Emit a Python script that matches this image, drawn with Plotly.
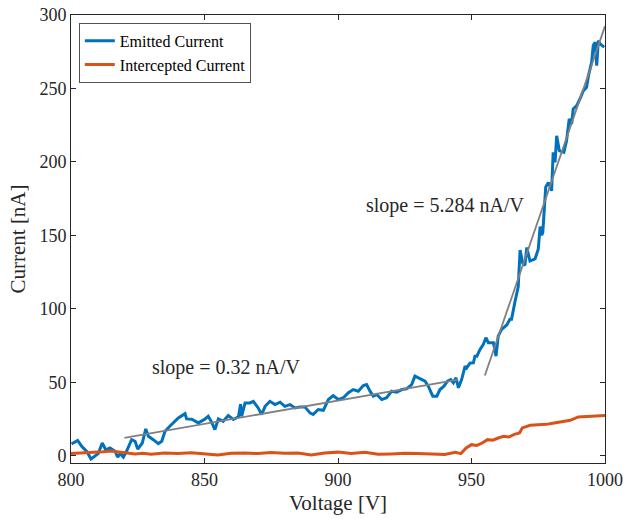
import plotly.graph_objects as go

# Emitted current (blue)
emitted_v = [800.2, 802.5, 804.0, 805.9, 807.5, 809.0, 810.2, 811.7, 813.0, 814.6, 816.5, 817.5, 818.4, 819.6,
             820.8, 822.7, 824.0, 825.0, 826.7, 828.0, 829.0, 830.8, 832.7, 834.0, 835.2, 837.0, 838.3, 840.2,
             842.7, 843.3, 845.2, 847.7, 850.2, 851.4, 852.7, 853.9, 855.2, 857.0, 858.9, 860.8, 862.7, 863.5,
             863.9, 865.2, 867.0, 868.3, 870.1, 871.4, 872.7, 874.5, 876.4, 878.3, 880.1, 882.0, 883.9, 885.8,
             887.6, 889.5, 890.7, 892.6, 894.5, 896.4, 898.2, 900.1, 902.0, 903.9, 905.7, 907.6, 909.5, 910.7,
             912.0, 913.2, 914.5, 916.4, 918.2, 920.1, 922.0, 923.9, 925.7, 927.6, 928.8, 930.7, 932.6, 933.8,
             935.5, 937.0, 938.2, 939.7, 941.0, 942.2, 943.2, 944.2, 945.1, 946.3, 947.6, 948.2, 949.4, 950.7,
             951.3, 952.0, 953.2, 954.4, 955.4, 956.3, 958.2, 959.2, 960.0, 961.3, 963.2, 964.4, 965.0, 966.3,
             967.5, 968.2, 969.2, 970.0, 970.7, 971.9, 973.8, 975.0, 975.7, 976.3, 976.7, 977.2, 977.8, 978.8,
             980.0, 980.6, 981.3, 981.9, 982.9, 984.6, 985.6, 986.6, 987.5, 988.1, 989.4, 990.6, 991.9, 993.1,
             993.8, 995.0, 995.6, 996.3, 996.9, 997.5, 998.1, 999.7]
emitted_i = [8.0, 10.4, 6.4, 2.9, -2.3, 0.0, 1.4, 8.6, 4.0, 5.2, 3.0, -1.0, 1.4, -1.0,
             3.0, 10.9, 9.8, 4.5, 8.6, 18.2, 13.2, 10.9, 8.2, 9.8, 16.6, 20.0, 22.3, 25.7,
             28.6, 25.0, 24.8, 22.3, 25.0, 26.8, 22.7, 17.7, 25.0, 23.4, 27.3, 24.6, 26.4, 35.0,
             26.8, 35.9, 35.9, 37.0, 32.5, 28.0, 33.6, 37.0, 34.8, 36.4, 33.6, 34.8, 32.5, 33.2,
             33.2, 29.1, 28.0, 31.4, 30.9, 38.2, 40.9, 38.2, 39.4, 42.8, 45.0, 43.9, 47.7, 48.4,
             43.9, 40.5, 41.6, 38.2, 39.4, 43.9, 43.2, 45.0, 45.5, 48.4, 54.1, 52.3, 50.7, 47.3,
             40.5, 40.5, 45.0, 47.3, 50.7, 51.8, 49.6, 53.0, 46.2, 51.8, 60.9, 59.8, 63.0, 63.2,
             67.7, 67.7, 72.3, 75.7, 80.3, 76.9, 76.9, 67.7, 81.4, 86.0, 89.0, 92.8, 92.8, 105.0,
             115.0, 140.0, 131.0, 129.5, 141.7, 132.5, 134.0, 140.5, 156.0, 150.0, 151.9, 166.0, 183.0, 186.0,
             180.3, 206.5, 199.7, 217.8, 207.6, 206.5, 214.4, 229.2, 225.8, 236.0, 238.3, 242.8, 248.5, 250.8,
             258.7, 267.9, 279.2, 281.5, 265.6, 282.6, 280.4, 278.1]

# Intercepted current (orange)
intercepted_v = [800, 803, 806, 809, 812, 815, 818, 821, 824, 827, 830, 835, 840, 845, 850, 855, 860, 865,
                 870, 875, 880, 885, 890, 895, 900, 905, 910, 915, 920, 925, 930, 935, 940, 944, 946, 948,
                 950, 952, 954, 956, 958, 960, 962, 964, 966, 968, 969, 972, 975, 978, 981, 984, 987, 990,
                 993, 996, 1000]
intercepted_i = [1.5, 1.8, 2.2, 2.0, 2.6, 3.2, 2.4, 1.8, 1.2, 1.6, 1.0, 1.8, 1.4, 2.0, 1.2, 0.4, 1.6, 1.8,
                 1.4, 2.2, 1.6, 1.8, 0.4, 1.8, 2.4, 1.4, 2.3, 1.0, 1.2, 1.6, 1.4, 1.2, 0.8, 2.3, 1.4, 5.2,
                 7.5, 7.0, 8.6, 10.9, 10.5, 12.0, 13.2, 12.7, 14.5, 15.5, 18.9, 20.7, 21.1, 21.3, 22.3, 23.0, 24.1, 26.4,
                 26.6, 26.8, 27.3]

# Linear fits
fit_low_v = [820, 945]
fit_low_i = [12.1, 51.8]
fit_high_v = [955, 1000]
fit_high_i = [54.6, 292.4]

labels = ["slope = 0.32 nA/V", "slope = 5.284 nA/V"]
label_v = [858, 940]
label_i = [60, 170.5]

x_ticks = [800, 850, 900, 950, 1000]
y_ticks = [0, 50, 100, 150, 200, 250, 300]

FONT = "Liberation Serif"
AX = "#262626"

fig = go.Figure()
fig.add_trace(go.Scatter(x=emitted_v, y=emitted_i, mode="lines", name="Emitted Current",
                         line=dict(color="#0072BD", width=3)))
fig.add_trace(go.Scatter(x=intercepted_v, y=intercepted_i, mode="lines", name="Intercepted Current",
                         line=dict(color="#D95319", width=3)))
fig.add_trace(go.Scatter(x=fit_low_v, y=fit_low_i, mode="lines", showlegend=False,
                         line=dict(color="#808080", width=1.8)))
fig.add_trace(go.Scatter(x=fit_high_v, y=fit_high_i, mode="lines", showlegend=False,
                         line=dict(color="#808080", width=1.8)))

for t, xv, yv in zip(labels, label_v, label_i):
    fig.add_annotation(x=xv, y=yv, text=t, showarrow=False,
                       font=dict(family=FONT, size=20, color=AX))

fig.update_layout(
    width=624, height=519,
    margin=dict(l=71, r=19, t=15, b=56, autoexpand=False),
    paper_bgcolor="white", plot_bgcolor="white",
    font=dict(family=FONT, color=AX),
    showlegend=True,
    legend=dict(x=0.015, y=0.982, xanchor="left", yanchor="top",
                bgcolor="white", bordercolor=AX, borderwidth=0.8,
                font=dict(family=FONT, size=16, color="black"),
                itemwidth=30, tracegroupgap=0),
)
fig.update_xaxes(range=[800, 1000], tickvals=x_ticks, ticks="inside", ticklen=5,
                 showline=True, linecolor=AX, linewidth=1, mirror="ticks", tickcolor=AX,
                 showgrid=False, zeroline=False, automargin=False, ticklabeloverflow="allow",
                 tickfont=dict(family=FONT, size=18, color=AX),
                 title=dict(text="Voltage [V]", font=dict(family=FONT, size=21, color=AX), standoff=6))
fig.update_yaxes(range=[-5, 300], tickvals=y_ticks, ticks="inside", ticklen=5,
                 showline=True, linecolor=AX, linewidth=1, mirror="ticks", tickcolor=AX,
                 showgrid=False, zeroline=False, automargin=False, ticklabeloverflow="allow",
                 tickfont=dict(family=FONT, size=18, color=AX),
                 title=dict(text="Current [nA]", font=dict(family=FONT, size=21, color=AX), standoff=8))

# remove the default 8 px page margin so the figure fills the window exactly
fig.write_html("out.html", config={"displayModeBar": False},
               post_script="document.body.style.margin='0';document.body.style.overflow='hidden';")
